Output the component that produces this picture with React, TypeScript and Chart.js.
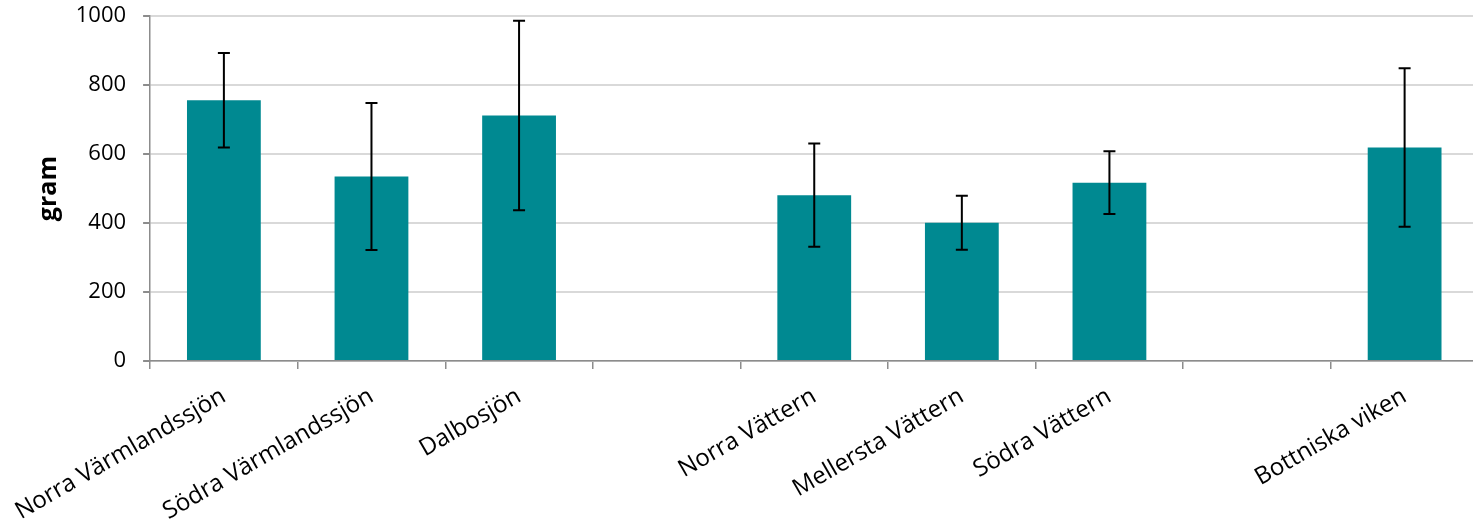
import React, { useEffect, useRef } from "react";
import { Chart, registerables } from "chart.js";

Chart.register(...registerables);

const categories = [
  "Norra Värmlandssjön",
  "Södra Värmlandssjön",
  "Dalbosjön",
  "",
  "Norra Vättern",
  "Mellersta Vättern",
  "Södra Vättern",
  "",
  "Bottniska viken",
  "",
];
const values = [756, 535, 712, null, 481, 401, 517, null, 619, null];
const errors = [137, 213, 275, null, 150, 78, 91, null, 230, null];
const yTicks = [0, 200, 400, 600, 800, 1000];

const FONT = "'Open Sans', 'DejaVu Sans', sans-serif";

const errorBarPlugin = {
  id: "errorBars",
  afterDatasetsDraw(chart: any) {
    const meta = chart.getDatasetMeta(0);
    const yScale = chart.scales.y;
    const ctx = chart.ctx;
    ctx.save();
    ctx.strokeStyle = "#000";
    ctx.lineWidth = 2;
    meta.data.forEach((bar: any, i: number) => {
      const v = values[i];
      const e = errors[i];
      if (v == null || e == null) return;
      const x = bar.x;
      const yT = yScale.getPixelForValue(v + e);
      const yB = yScale.getPixelForValue(v - e);
      const cap = 6;
      ctx.beginPath();
      ctx.moveTo(x, yT);
      ctx.lineTo(x, yB);
      ctx.moveTo(x - cap, yT);
      ctx.lineTo(x + cap, yT);
      ctx.moveTo(x - cap, yB);
      ctx.lineTo(x + cap, yB);
      ctx.stroke();
    });
    ctx.restore();
  },
};

export default function App() {
  const ref = useRef<HTMLCanvasElement | null>(null);
  useEffect(() => {
    if (!ref.current) return;
    const chart = new Chart(ref.current, {
      type: "bar",
      data: {
        labels: categories,
        datasets: [
          {
            data: values as any,
            backgroundColor: "#008991",
            borderWidth: 0,
            barPercentage: 0.5,
            categoryPercentage: 1,
          },
        ],
      },
      options: {
        responsive: false,
        animation: false,
        layout: { padding: { left: 0, right: 71, top: 3, bottom: 0 } },
        plugins: { legend: { display: false }, tooltip: { enabled: false } },
        scales: {
          x: {
            afterFit: (s: any) => {
              s.height = 166;
            },
            grid: {
              drawOnChartArea: false,
              drawTicks: true,
              tickLength: 8,
              tickColor: "#8c8c8c",
              offset: true,
              lineWidth: 1.5,
            },
            border: { color: "#8c8c8c", width: 1.5 },
            ticks: {
              autoSkip: false,
              maxRotation: 30,
              minRotation: 30,
              padding: 13,
              color: "#000",
              font: { family: FONT, size: 24 },
            },
          },
          y: {
            min: 0,
            max: 1000,
            afterFit: (s: any) => {
              s.width = 151;
            },
            afterBuildTicks: (s: any) => {
              s.ticks = yTicks.map((v) => ({ value: v }));
            },
            grid: {
              color: "#d9d9d9",
              lineWidth: 2,
              tickLength: 7,
              tickColor: "#8c8c8c",
            },
            border: { color: "#8c8c8c", width: 1.5 },
            ticks: {
              padding: 17,
              color: "#000",
              font: { family: FONT, size: 22 },
              callback: (v: any) => String(v),
            },
            title: {
              display: true,
              text: "gram",
              color: "#000",
              font: { family: FONT, size: 25, weight: "bold" },
              padding: { top: 35, bottom: 0 },
            },
          },
        },
      },
      plugins: [errorBarPlugin],
    });
    return () => chart.destroy();
  }, []);
  return (
    <div
      style={{
        position: "fixed",
        left: 0,
        top: 0,
        width: 1473,
        height: 527,
        overflow: "hidden",
        background: "#fff",
      }}
    >
      <canvas
        ref={ref}
        width={1700}
        height={541}
        style={{ display: "block", marginTop: -14, marginLeft: -3 }}
      />
    </div>
  );
}
